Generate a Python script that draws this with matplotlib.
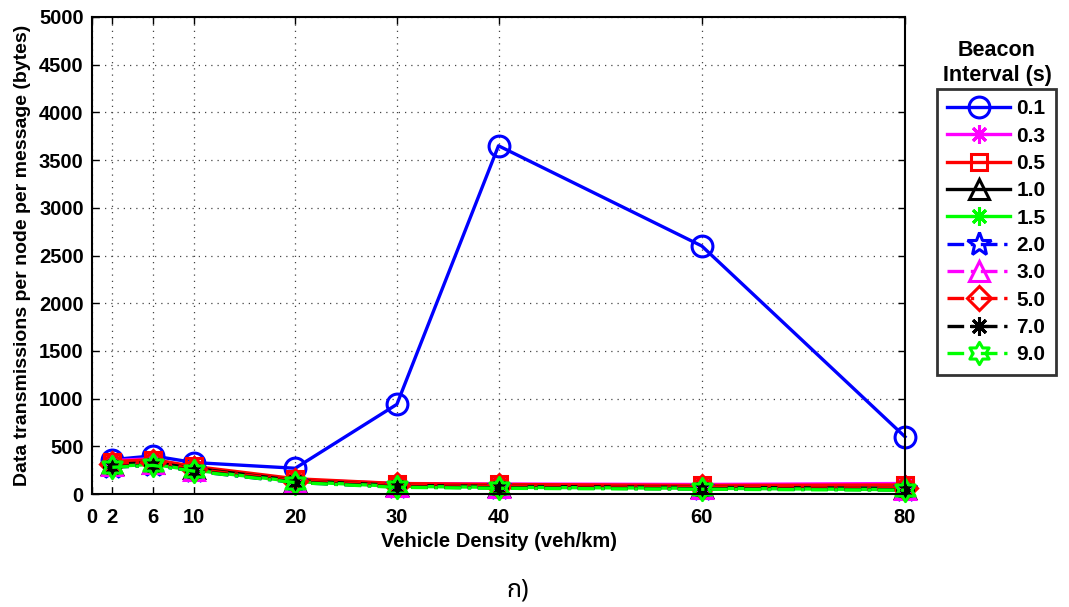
import numpy as np
import matplotlib
matplotlib.use("Agg")
import matplotlib.pyplot as plt
from matplotlib.path import Path

plt.rcParams['font.family'] = ['Liberation Sans', 'DejaVu Sans']

density = [2, 6, 10, 20, 30, 40, 60, 80]
x_ticks = [0, 2, 6, 10, 20, 30, 40, 60, 80]

bi_0_1 = [360, 400, 330, 270, 940, 3650, 2600, 600]
bi_0_3 = [350, 370, 270, 150, 110, 105, 100, 110]
bi_0_5 = [340, 360, 290, 160, 110, 100, 90, 95]
bi_1_0 = [310, 330, 270, 140, 90, 80, 70, 60]
bi_1_5 = [290, 310, 250, 130, 80, 70, 60, 45]
bi_2_0 = [280, 300, 240, 120, 75, 65, 55, 45]
bi_3_0 = [300, 320, 250, 130, 80, 70, 60, 50]
bi_5_0 = [310, 340, 260, 140, 90, 80, 70, 60]
bi_7_0 = [285, 305, 245, 125, 75, 65, 55, 45]
bi_9_0 = [280, 300, 240, 120, 70, 60, 50, 40]

labels = ['0.1', '0.3', '0.5', '1.0', '1.5', '2.0', '3.0', '5.0', '7.0', '9.0']
series = [bi_0_1, bi_0_3, bi_0_5, bi_1_0, bi_1_5, bi_2_0, bi_3_0, bi_5_0, bi_7_0, bi_9_0]

# six-pointed star marker
ang = np.deg2rad(90 + np.arange(12) * 30)
rad = np.where(np.arange(12) % 2 == 0, 1.0, 1 / np.sqrt(3))
hex_verts = np.column_stack([rad * np.cos(ang), rad * np.sin(ang)])
hex_verts = np.vstack([hex_verts, hex_verts[:1]])
hexagram = Path(hex_verts, closed=True)

dashdot = (0, (5, 2, 1, 2))

styles = [
    dict(color='#0000ff', ls='-', marker='o', ms=15),
    dict(color='#ff00ff', ls='-', marker=(8, 2, 0), ms=13),
    dict(color='#ff0000', ls='-', marker='s', ms=11),
    dict(color='#000000', ls='-', marker='^', ms=14),
    dict(color='#00ff00', ls='-', marker=(8, 2, 0), ms=13),
    dict(color='#0000ff', ls=dashdot, marker='*', ms=18),
    dict(color='#ff00ff', ls=dashdot, marker='^', ms=14),
    dict(color='#ff0000', ls=dashdot, marker='D', ms=12),
    dict(color='#000000', ls=dashdot, marker=(8, 2, 0), ms=13),
    dict(color='#00ff00', ls=dashdot, marker=hexagram, ms=16),
]

fig = plt.figure(figsize=(10.69, 6.07), dpi=100)
ax = fig.add_axes([92 / 1069, 1 - 494 / 607, (905 - 92) / 1069, (494 - 17) / 607])

for vals, lab, st in zip(series, labels, styles):
    ax.plot(density, vals, color=st['color'], ls=st['ls'], lw=2.4,
            marker=st['marker'], ms=st['ms'], mfc='none', mec=st['color'],
            mew=2.2, label=lab, clip_on=False)

ax.set_xlim(0, 80)
ax.set_ylim(0, 5000)
ax.set_xticks(x_ticks)
ax.set_yticks(np.arange(0, 5001, 500))
ax.grid(True, ls=(0, (1, 4)), color='#444444', lw=0.9)
ax.tick_params(direction='in', top=True, right=True, length=5, width=1,
               labelsize=14.5, pad=6)
ax.tick_params(axis='x', pad=10)
for t in ax.get_xticklabels() + ax.get_yticklabels():
    t.set_fontweight('bold')
for sp in ax.spines.values():
    sp.set_linewidth(1.5)

ax.set_xlabel('Vehicle Density (veh/km)', fontsize=14.5, fontweight='bold', labelpad=4)
ax.set_ylabel('Data transmissions per node per message (bytes)', fontsize=14,
              fontweight='bold', labelpad=6)

leg = fig.legend(loc='upper left', bbox_to_anchor=(937 / 1069, 1 - 89 / 607),
                 prop={'size': 15, 'weight': 'bold'}, frameon=True, fancybox=False,
                 handlelength=3.0, handletextpad=0.3, borderpad=0.5,
                 labelspacing=0.4, borderaxespad=0)
leg.get_frame().set_edgecolor('black')
leg.get_frame().set_linewidth(2)

fig.text(997 / 1069, 1 - 63 / 607, 'Beacon\nInterval (s)', ha='center', va='center',
         fontsize=15.5, fontweight='bold', linespacing=1.2)

fig.text(518 / 1069, 1 - 590 / 607, 'ก)', ha='center', va='center', fontsize=18,
         family=['Noto Sans Thai', 'Noto Sans', 'DejaVu Sans', 'Liberation Sans'])

fig.savefig('out.png', dpi=100)
